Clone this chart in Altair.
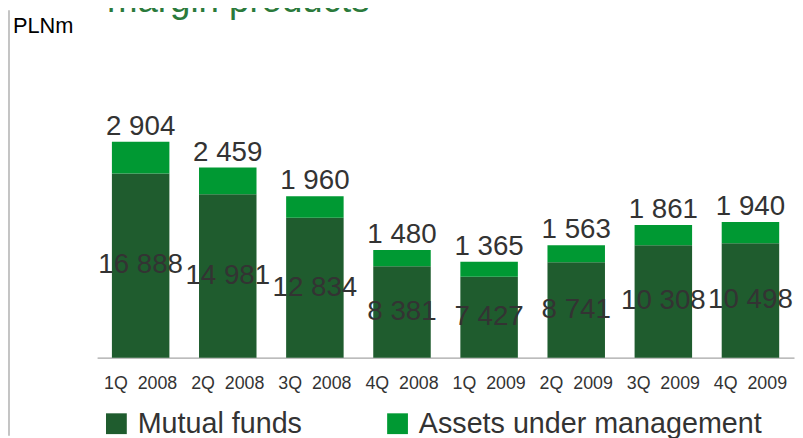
import altair as alt
import pandas as pd

quarters = ["1Q 2008", "2Q 2008", "3Q 2008", "4Q 2008",
            "1Q 2009", "2Q 2009", "3Q 2009", "4Q 2009"]
mutual_funds = [16888, 14981, 12834, 8381, 7427, 8741, 10308, 10498]
assets_mgmt = [2904, 2459, 1960, 1480, 1365, 1563, 1861, 1940]
series = ["Mutual funds", "Assets under management"]
colors = ["#1f5c2e", "#009933"]
title_text = "margin products"
unit_text = "PLNm"


def fmt(v):
    return f"{v:,}".replace(",", " ")


rows = []
for q, mf, am in zip(quarters, mutual_funds, assets_mgmt):
    rows.append(dict(quarter=q, series=series[0], value=mf, order=0))
    rows.append(dict(quarter=q, series=series[1], value=am, order=1))
df = pd.DataFrame(rows)

lab = pd.DataFrame(dict(
    quarter=quarters,
    mf_mid=[m / 2 for m in mutual_funds],
    total=[m + a for m, a in zip(mutual_funds, assets_mgmt)],
    mf_label=[fmt(m) for m in mutual_funds],
    am_label=[fmt(a) for a in assets_mgmt],
))

FONT = "Liberation Sans"
xscale = alt.Scale(paddingInner=0.34, paddingOuter=0.17)
yscale = alt.Scale(domain=[0, 21970])
xaxis = alt.Axis(title=None, labelAngle=0, ticks=False,
                 domainColor="#a6a6a6", domainWidth=1.5,
                 labelFontSize=18, labelFont=FONT,
                 labelColor="#333333", labelPadding=17,
                 labelExpr="replace(datum.label, ' ', '\u00a0 ')")
xenc = alt.X("quarter:N", sort=quarters, scale=xscale, axis=xaxis)

bars = alt.Chart(df).mark_bar().encode(
    x=xenc,
    y=alt.Y("value:Q", stack="zero", scale=yscale, axis=None),
    color=alt.Color("series:N", scale=alt.Scale(domain=series, range=colors),
                    legend=alt.Legend(orient="none", legendX=5, legendY=294,
                                      direction="horizontal", title=None,
                                      symbolType="square", symbolSize=441,
                                      symbolStrokeWidth=0, symbolOpacity=1,
                                      labelFontSize=29, labelFont=FONT,
                                      labelColor="#333333", labelOffset=7,
                                      labelLimit=600,
                                      columnPadding=81, padding=0)),
    order=alt.Order("order:Q", sort="ascending"),
)

mf_text = alt.Chart(lab).mark_text(
    font=FONT, fontSize=28, color="#333333", baseline="middle"
).encode(
    x=xenc,
    y=alt.Y("mf_mid:Q", scale=yscale, axis=None),
    text="mf_label:N",
)

am_text = alt.Chart(lab).mark_text(
    font=FONT, fontSize=28, color="#333333", baseline="bottom", dy=-1
).encode(
    x=xenc,
    y=alt.Y("total:Q", scale=yscale, axis=None),
    text="am_label:N",
)

one = alt.Data(values=[{"t": 1}])

title_mark = alt.Chart(one).mark_text(
    font=FONT, fontSize=37, color="#2b7a3b", align="left", baseline="alphabetic"
).encode(x=alt.value(10), y=alt.value(-107), text=alt.value(title_text))

unit_mark = alt.Chart(one).mark_text(
    font=FONT, fontSize=22, color="#000000", align="left", baseline="alphabetic"
).encode(x=alt.value(-85), y=alt.value(-86), text=alt.value(unit_text))

frame_rule = alt.Chart(one).mark_rule(color="#c4c4c4", strokeWidth=2).encode(
    x=alt.value(-89), y=alt.value(-109), y2=alt.value(321)
)

chart = alt.layer(bars, mf_text, am_text, title_mark, unit_mark, frame_rule).properties(
    width=704, height=242,
    padding={"left": 90, "top": 109, "right": 1, "bottom": 79},
    autosize=alt.AutoSizeParams(type="none"),
).configure_view(stroke=None)

chart.save("out.html", embed_options={"renderer": "svg", "actions": False})
